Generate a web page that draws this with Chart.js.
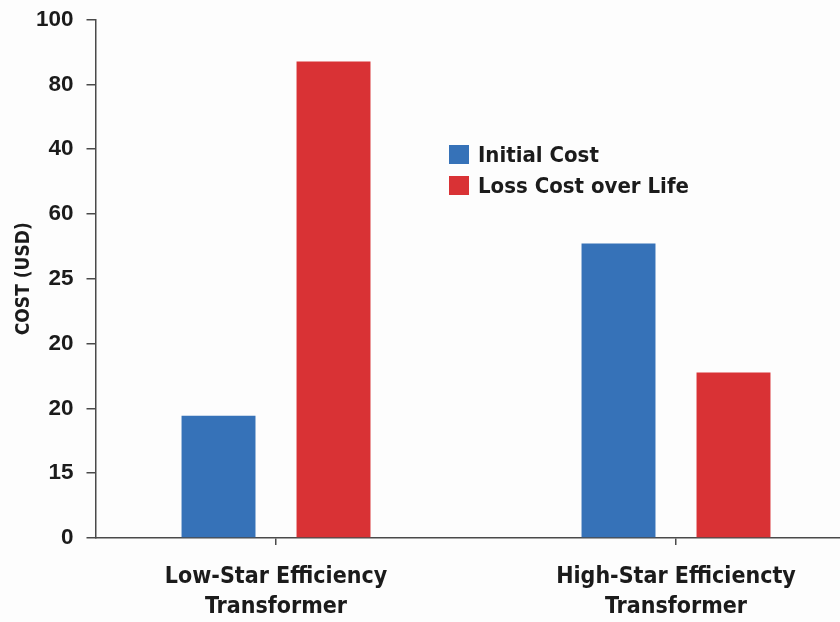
<!DOCTYPE html>
<html>
<head>
<meta charset="utf-8">
<title>Transformer cost comparison</title>
<script src="https://cdn.jsdelivr.net/npm/chart.js@4.4.1/dist/chart.umd.min.js"></script>
<style>
  html, body { margin: 0; padding: 0; background: #fdfdfd; overflow: hidden; }
  #wrap { width: 840px; height: 622px; position: relative; }
</style>
</head>
<body>
<div id="wrap"><canvas id="costChart"></canvas></div>
<script>
// Categories on the x axis (multi-line labels)
const categories = [
  ['Low-Star Efficiency', 'Transformer'],
  ['High-Star Efficiencty', 'Transformer']
];
// Series
const seriesNames = ['Initial Cost', 'Loss Cost over Life'];
const initialCost = [23.6, 56.8];
const lossCost = [91.9, 31.9];
const seriesColors = ['#3672b8', '#d93235'];
// Y tick labels, bottom to top, one per 12.5 step
const yTickLabels = ['0', '15', '20', '20', '25', '60', '40', '80', '100'];

const textColor = '#1b1b1b';
const axisColor = '#4a4a4a';
const condensed = '"DejaVu Sans Condensed", "DejaVu Sans", sans-serif';

// Legend drawn inside the plot area as two stacked entries
const boxLegend = {
  id: 'boxLegend',
  afterDraw(chart) {
    const ctx = chart.ctx;
    ctx.save();
    ctx.font = 'bold 22px ' + condensed;
    ctx.textBaseline = 'middle';
    ctx.textAlign = 'left';
    chart.data.datasets.forEach((ds, i) => {
      const y = 155 + i * 31;
      ctx.fillStyle = ds.backgroundColor;
      ctx.fillRect(449, y - 10, 20, 19);
      ctx.fillStyle = textColor;
      ctx.fillText(ds.label, 478, y + 1);
    });
    ctx.restore();
  }
};

const toPoints = arr => arr.map((v, i) => ({ x: i, y: v }));

new Chart(document.getElementById('costChart'), {
  type: 'bar',
  data: {
    datasets: [
      { label: seriesNames[0], data: toPoints(initialCost), backgroundColor: seriesColors[0] },
      { label: seriesNames[1], data: toPoints(lossCost), backgroundColor: seriesColors[1] }
    ]
  },
  options: {
    responsive: true,
    maintainAspectRatio: false,
    animation: false,
    layout: { padding: { top: 19.5, right: 0, bottom: 0, left: 0 } },
    datasets: { bar: { categoryPercentage: 0.575, barPercentage: 0.643 } },
    plugins: {
      legend: { display: false },
      tooltip: { enabled: false }
    },
    scales: {
      x: {
        type: 'linear',
        offset: false,
        min: -0.4513,
        max: 1.41,
        afterBuildTicks: s => { s.ticks = categories.map((_, i) => ({ value: i })); },
        afterFit: s => { s.height = 84; },
        border: { display: true, color: axisColor, width: 1.5 },
        grid: { offset: false, drawOnChartArea: false, drawTicks: true, tickLength: 7, color: axisColor, lineWidth: 1.5 },
        ticks: {
          padding: 17.5,
          color: textColor,
          maxRotation: 0,
          autoSkip: false,
          font: { family: condensed, weight: 'bold', size: 23, lineHeight: 1.28 },
          callback: v => categories[v]
        }
      },
      y: {
        min: 0,
        max: 100,
        afterFit: s => { s.width = 95.5; s.paddingTop = 0; s.paddingBottom = 0; },
        border: { display: true, color: axisColor, width: 1.5 },
        grid: { drawOnChartArea: false, drawTicks: true, tickLength: 9, color: axisColor, lineWidth: 1.5 },
        ticks: {
          stepSize: 12.5,
          padding: 13,
          color: textColor,
          font: { family: '"Liberation Sans", Arial, sans-serif', weight: 'bold', size: 22.5 },
          callback: (v, i) => yTickLabels[i]
        },
        title: {
          display: true,
          text: 'COST (USD)',
          color: textColor,
          padding: { top: 12.6, bottom: 0 },
          font: { family: condensed, weight: 'bold', size: 19 }
        }
      }
    }
  },
  plugins: [boxLegend]
});
</script>
</body>
</html>
